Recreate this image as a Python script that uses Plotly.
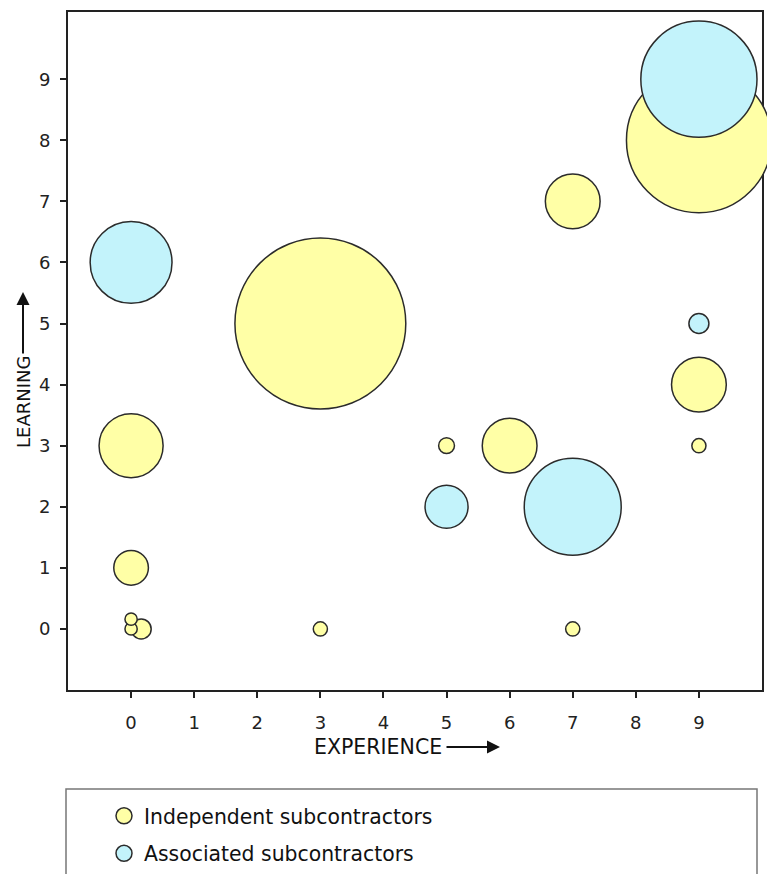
import plotly.graph_objects as go

# Independent subcontractors (yellow)
ind_experience = [3, 9, 0, 6, 9, 7, 0, 0.16, 5, 3, 7, 9, 0, 0]
ind_learning = [5, 8, 3, 3, 4, 7, 1, 0, 3, 0, 0, 3, 0, 0.16]
ind_volume = [292, 210, 41, 30, 30, 30, 12, 4, 2.5, 2, 2, 2, 1.5, 1.5]

# Associated subcontractors (blue)
asc_experience = [9, 7, 0, 5, 9]
asc_learning = [9, 2, 6, 2, 5]
asc_volume = [135, 94, 67, 18.5, 4]

x_ticks = list(range(0, 10))
y_ticks = list(range(0, 10))

W, H = 775, 874
OFF = 8  # page body margin
L, R, T, B = 60, 21, 4, 192
PW, PH = W - L - R, H - T - B


def px(sx):
    return (sx - OFF - L) / PW


def py(sy):
    return (H - B - (sy - OFF)) / PH


FONT = "DejaVu Sans"
YELLOW = "#FFFFA6"
BLUE = "#C3F3FB"
EDGE = "#2b2b2b"

fig = go.Figure()
fig.add_trace(go.Scatter(
    x=ind_experience, y=ind_learning, mode="markers",
    name="Independent subcontractors", legendgroup="a",
    marker=dict(size=ind_volume, sizemode="area", sizeref=0.02, color=YELLOW,
                line=dict(color=EDGE, width=1.5), opacity=1),
    cliponaxis=False,
))
fig.add_trace(go.Scatter(
    x=asc_experience, y=asc_learning, mode="markers",
    name="Associated subcontractors", legendgroup="b",
    marker=dict(size=asc_volume, sizemode="area", sizeref=0.02, color=BLUE,
                line=dict(color=EDGE, width=1.5), opacity=1),
    cliponaxis=False,
))

axis_common = dict(
    showline=True, linecolor="#222222", linewidth=2, mirror=True,
    ticks="outside", ticklen=6, tickwidth=1.5, tickcolor="#222222",
    showgrid=False, zeroline=False, layer="below traces", automargin=False,
    tickfont=dict(family=FONT, size=18, color="#222222"),
)

fig.update_xaxes(range=[-1, 10], tickvals=x_ticks, ticklabelstandoff=9, **axis_common)
fig.update_yaxes(range=[-1, 10.1], tickvals=y_ticks, ticklabelstandoff=6, **axis_common)

annotations = [
    dict(text="EXPERIENCE", xref="paper", yref="paper", x=px(444), y=py(747),
         xanchor="right", yanchor="middle", showarrow=False,
         font=dict(family=FONT, size=20.5, color="#111111")),
    dict(text="", xref="paper", yref="paper", x=px(500), y=py(747),
         ax=-55, ay=0, showarrow=True, arrowhead=2, arrowsize=1.3, arrowwidth=2,
         arrowcolor="#111111"),
    dict(text="LEARNING", xref="paper", yref="paper", x=px(23), y=py(402),
         xanchor="center", yanchor="middle", textangle=-90, showarrow=False,
         font=dict(family=FONT, size=18, color="#111111")),
    dict(text="", xref="paper", yref="paper", x=px(23), y=py(292),
         ax=0, ay=63, showarrow=True, arrowhead=2, arrowsize=1.3, arrowwidth=2,
         arrowcolor="#111111"),
]

shapes = [
    dict(type="rect", xref="paper", yref="paper", x0=px(66), x1=px(757),
         y0=py(789), y1=py(900), line=dict(color="#777777", width=1.5),
         fillcolor="rgba(0,0,0,0)"),
]

fig.update_layout(
    width=W, height=H,
    margin=dict(l=L, r=R, t=T, b=B, autoexpand=False),
    paper_bgcolor="white", plot_bgcolor="white",
    showlegend=True,
    legend=dict(x=px(104), y=py(796), xanchor="left", yanchor="top",
                font=dict(family=FONT, size=20.4, color="#111111"),
                traceorder="grouped", tracegroupgap=8,
                bgcolor="rgba(0,0,0,0)", itemsizing="trace"),
    annotations=annotations,
    shapes=shapes,
)

fig.write_html("out.html")
